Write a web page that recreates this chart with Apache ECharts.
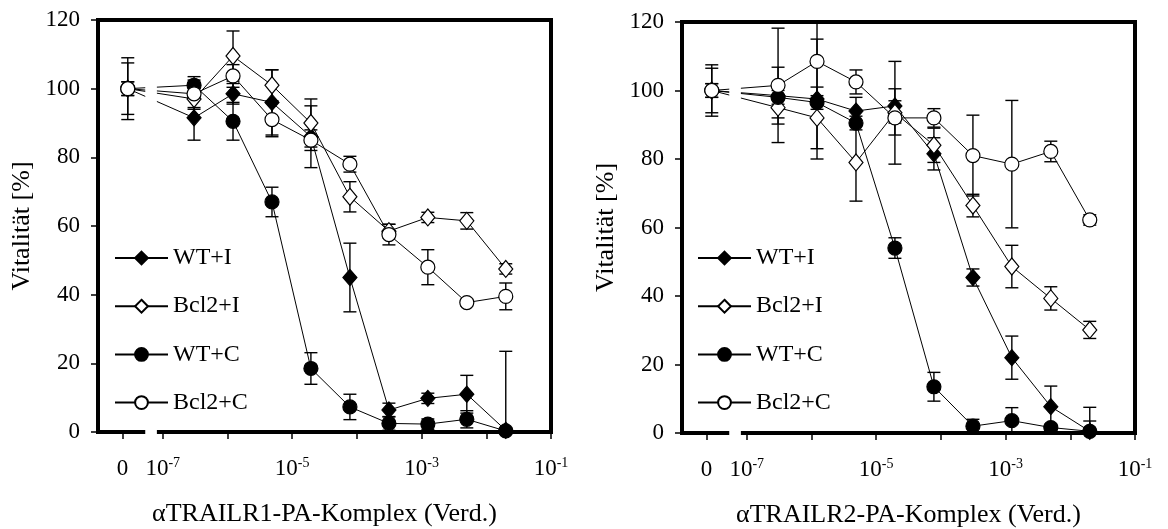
<!DOCTYPE html>
<html><head><meta charset="utf-8">
<script src="https://cdn.jsdelivr.net/npm/echarts@6/dist/echarts.min.js"></script>
<style>html,body{margin:0;padding:0;background:#fff}#c{width:1168px;height:529px}</style>
</head><body><div id="c"></div>
<script>
// ---------- DATA ----------
// Dilution (Verd.) of the complex; 0 = untreated control
const dilutions = [0, 3.05e-7, 1.22e-6, 4.88e-6, 1.95e-5, 7.81e-5, 3.13e-4, 1.25e-3, 5.0e-3, 2.0e-2];
const seriesNames = ['WT+I', 'Bcl2+I', 'WT+C', 'Bcl2+C'];

// Panel 1: alpha-TRAILR1-PA complex
const r1_WT_I      = [100, 91.5, 98.5, 96.0, 86.0, 45.0,  6.4,  9.8, 11.0,  0.5];
const r1_WT_I_err  = [  2,  6.5,  3.0,  9.5,  9.0, 10.0,  2.0,  1.5,  5.5, 23.0];
const r1_Bcl_I     = [100, 97.0, 109.5, 101.0, 90.0, 68.5, 58.5, 62.5, 61.5, 47.5];
const r1_Bcl_I_err = [  2,  3.0,  7.3,  4.5,  7.0,  4.4,  2.0,  1.5,  2.4,  1.5];
const r1_WT_C      = [100, 101.0, 90.5, 67.0, 18.5,  7.3,  2.5,  2.3,  3.7,  0.3];
const r1_WT_C_err  = [7.5,  2.5,  5.5,  4.3,  4.6,  3.7,  2.0,  1.5,  2.5,  1.0];
const r1_Bcl_C     = [100, 98.5, 103.7, 91.0, 85.0, 78.0, 57.5, 48.0, 37.7, 39.5];
const r1_Bcl_C_err = [9.0,  4.0,  3.3,  5.0,  3.0,  2.3,  3.0,  5.1,  1.0,  3.9];

// Panel 2: alpha-TRAILR2-PA complex
const r2_WT_I      = [100, 98.5, 97.5, 94.0, 95.5, 81.5, 45.4, 22.0,  7.7,  0.5];
const r2_WT_I_err  = [  2,  8.3, 17.5,  4.0,  5.0,  4.7,  2.5,  6.3,  6.0,  7.0];
const r2_Bcl_I     = [100, 95.0, 92.0, 79.0, 93.5, 84.0, 66.4, 48.6, 39.3, 30.1];
const r2_Bcl_I_err = [  2,  3.0,  9.0, 11.3, 15.0,  5.0,  3.3,  6.2,  3.4,  2.5];
const r2_WT_C      = [100, 98.0, 96.5, 90.5, 54.0, 13.5,  2.0,  3.6,  1.6,  0.5];
const r2_WT_C_err  = [6.5,  2.0,  2.0,  2.0,  3.0,  4.2,  2.0,  3.8,  1.0,  3.0];
const r2_Bcl_C     = [100, 101.5, 108.5, 102.5, 92.0, 92.0, 81.0, 78.5, 82.2, 62.2];
const r2_Bcl_C_err = [7.5, 16.7, 12.0,  3.5,  5.0,  2.7, 11.8, 18.6,  3.0,  1.5];

// Axis ticks / labels
const xTickExponents  = [-7, -6, -5, -4, -3, -2, -1];
const xLabelExponents = [-7, -5, -3, -1];
const zeroLabel = '0';
const yTitle = 'Vitalität [%]';
const xTitles = ['αTRAILR1-PA-Komplex (Verd.)', 'αTRAILR2-PA-Komplex (Verd.)'];

// ---------- LAYOUT / STYLE ----------
const FONT = "'Liberation Serif','Times New Roman',serif";
const X_MIN = -8, X_MAX = -1;
const ZERO_TICK = -7.62;   // axis position of the "0" (control) tick
const ZERO_POINT = -7.54;  // axis position where control points are drawn
const BREAK_FROM = -7.27, BREAK_TO = -7.09;  // axis break gap
const CAP = 13;

const panels = [
  {grid: {left: 98, top: 20, width: 453, height: 412}, legend: {left: 109, top: 241},
   vals: [r1_WT_I, r1_Bcl_I, r1_WT_C, r1_Bcl_C], errs: [r1_WT_I_err, r1_Bcl_I_err, r1_WT_C_err, r1_Bcl_C_err]},
  {grid: {left: 682, top: 22, width: 453, height: 411}, legend: {left: 692, top: 241},
   vals: [r2_WT_I, r2_Bcl_I, r2_WT_C, r2_Bcl_C], errs: [r2_WT_I_err, r2_Bcl_I_err, r2_WT_C_err, r2_Bcl_C_err]}
];

const symStyles = [
  {symbol: 'diamond', size: [14, 16], fill: '#000'},
  {symbol: 'diamond', size: [14, 17], fill: '#fff'},
  {symbol: 'circle',  size: 14,       fill: '#000'},
  {symbol: 'circle',  size: 14,       fill: '#fff'}
];

const xPos = c => c === 0 ? ZERO_POINT : Math.log10(c);

function renderErr(params, api) {
  const x = api.value(0), y = api.value(1), e = api.value(2);
  const t = api.coord([x, y + e]);
  const b = api.coord([x, y - e]);
  const st = {stroke: '#000', lineWidth: 1.4};
  const w = CAP / 2;
  return {type: 'group', children: [
    {type: 'line', shape: {x1: t[0], y1: t[1], x2: b[0], y2: b[1]}, style: st},
    {type: 'line', shape: {x1: t[0] - w, y1: t[1], x2: t[0] + w, y2: t[1]}, style: st},
    {type: 'line', shape: {x1: b[0] - w, y1: b[1], x2: b[0] + w, y2: b[1]}, style: st}
  ]};
}
function renderMask(params, api) {
  const a = api.coord([api.value(0), 115]);
  const b = api.coord([api.value(1), 0]);
  return {type: 'rect', shape: {x: a[0], y: a[1], width: b[0] - a[0], height: b[1] - a[1] + 5},
          style: {fill: '#fff'}};
}

const option = {
  animation: false,
  backgroundColor: '#fff',
  grid: [], xAxis: [], yAxis: [], legend: [], series: []
};

panels.forEach((p, i) => {
  option.grid.push(Object.assign({show: true, borderColor: '#000', borderWidth: 4, backgroundColor: 'transparent',
    containLabel: false, outerBoundsMode: 'none'}, p.grid));
  option.xAxis.push({
    gridIndex: i, type: 'value', min: X_MIN, max: X_MAX,
    axisLine: {show: false}, splitLine: {show: false},
    axisTick: {show: true, customValues: [ZERO_TICK].concat(xTickExponents), length: 7, lineStyle: {color: '#000', width: 1.5}},
    axisLabel: {
      customValues: [ZERO_TICK].concat(xLabelExponents), margin: 24,
      formatter: v => v < -7.5 ? '{n|' + zeroLabel + '}' : '{n|10}{s|' + Math.round(v) + '}',
      rich: {
        n: {fontFamily: FONT, fontSize: 23, color: '#000', lineHeight: 26},
        s: {fontFamily: FONT, fontSize: 14, color: '#000', lineHeight: 26, verticalAlign: 'top', padding: [0, 0, 8, 0]}
      }
    },
    name: xTitles[i], nameLocation: 'middle', nameGap: 69,
    nameTextStyle: {fontFamily: FONT, fontSize: 26, color: '#000'}
  });
  option.yAxis.push({
    gridIndex: i, type: 'value', min: 0, max: 120, interval: 20,
    axisLine: {show: false}, splitLine: {show: false},
    axisTick: {show: true, length: 7, lineStyle: {color: '#000', width: 1.5}},
    axisLabel: {margin: 18, fontFamily: FONT, fontSize: 23, color: '#000'},
    name: yTitle, nameLocation: 'middle', nameGap: 63,
    nameTextStyle: {fontFamily: FONT, fontSize: 26, color: '#000'}
  });
  option.legend.push({
    data: seriesNames, orient: 'vertical', left: p.legend.left, top: p.legend.top,
    itemWidth: 53, itemHeight: 16, itemGap: 24.2,
    textStyle: {fontFamily: FONT, fontSize: 24, color: '#000', lineHeight: 22},
    selectedMode: false
  });
  const errData = [];
  seriesNames.forEach((name, k) => {
    const s = symStyles[k];
    option.series.push({
      type: 'line', name, xAxisIndex: i, yAxisIndex: i, z: 2,
      data: dilutions.map((c, j) => [xPos(c), p.vals[k][j]]),
      symbol: s.symbol, symbolSize: s.size, showAllSymbol: true,
      itemStyle: {color: s.fill, borderColor: '#000', borderWidth: 1.2},
      lineStyle: {color: '#000', width: 1},
      emphasis: {disabled: true}, silent: true
    });
    dilutions.forEach((c, j) => errData.push([xPos(c), p.vals[k][j], p.errs[k][j]]));
  });
  option.series.push({
    type: 'custom', name: 'err' + i, xAxisIndex: i, yAxisIndex: i, z: 1, clip: true, silent: true,
    renderItem: renderErr, data: errData, encode: {x: 0, y: 1}
  });
  option.series.push({
    type: 'custom', name: 'break' + i, xAxisIndex: i, yAxisIndex: i, z: 3, clip: false, silent: true,
    renderItem: renderMask, data: [[BREAK_FROM, BREAK_TO]], encode: {x: [0, 1]}
  });
});

const chart = echarts.init(document.getElementById('c'), null, {renderer: 'canvas'});
chart.setOption(option);
</script></body></html>
